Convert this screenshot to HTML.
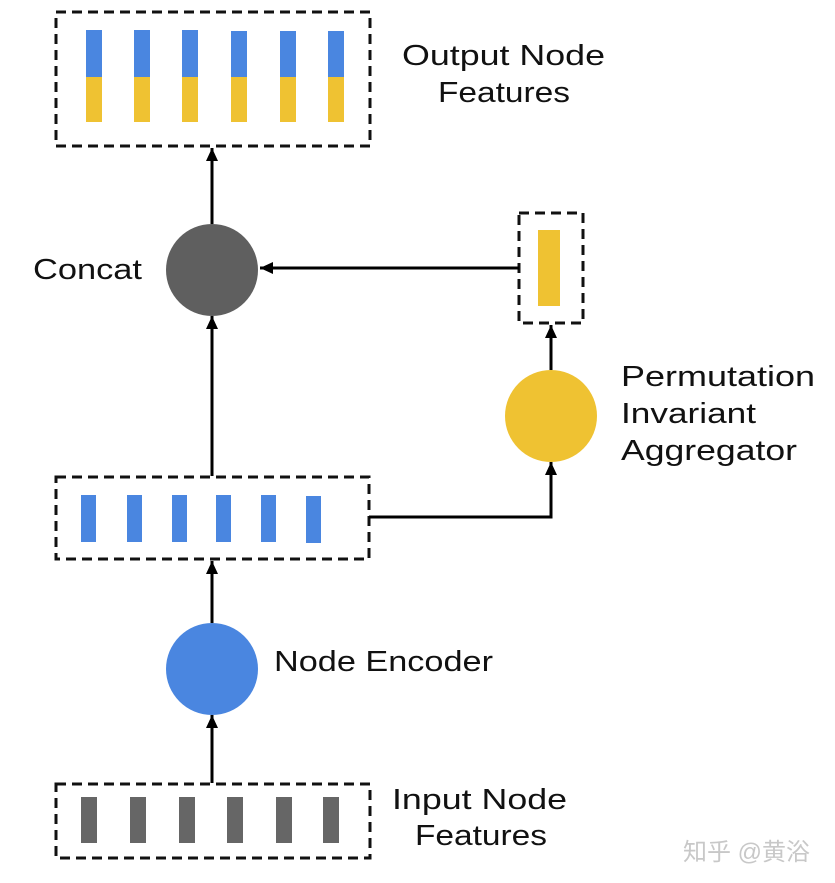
<!DOCTYPE html>
<html><head><meta charset="utf-8"><style>
body{margin:0;background:#fff;}
svg{display:block}
text{font-family:"Liberation Sans","Noto Sans CJK SC",sans-serif;fill:#111;font-size:29px}
</style></head><body>
<svg width="835" height="883" viewBox="0 0 835 883">
<defs><marker id="b" markerWidth="14" markerHeight="14" refX="13" refY="6" orient="auto" markerUnits="userSpaceOnUse"><path d="M0,0 L13,6 L0,12 z" fill="#000"/></marker></defs>
<g fill="none" stroke="#111" stroke-width="3" stroke-dasharray="10,6">
<rect x="56" y="12" width="314" height="134"/>
<rect x="519" y="213" width="64" height="110"/>
<rect x="56" y="477" width="313" height="82"/>
<rect x="56" y="784" width="314" height="74"/>
</g>
<g fill="#4a86e0">
<rect x="86" y="30" width="16" height="47"/><rect x="134" y="30" width="16" height="47"/><rect x="182" y="30" width="16" height="47"/><rect x="231" y="31" width="16" height="46"/><rect x="280" y="31" width="16" height="46"/><rect x="328" y="31" width="16" height="46"/>
<rect x="81" y="495" width="15" height="47"/><rect x="127" y="495" width="15" height="47"/><rect x="172" y="495" width="15" height="47"/><rect x="216" y="495" width="15" height="47"/><rect x="261" y="495" width="15" height="47"/><rect x="306" y="496" width="15" height="47"/>
</g>
<g fill="#efc232">
<rect x="86" y="77" width="16" height="45"/><rect x="134" y="77" width="16" height="45"/><rect x="182" y="77" width="16" height="45"/><rect x="231" y="77" width="16" height="45"/><rect x="280" y="77" width="16" height="45"/><rect x="328" y="77" width="16" height="45"/>
<rect x="538" y="230" width="22" height="76"/>
</g>
<g fill="#666">
<rect x="81" y="797" width="16" height="46"/><rect x="130" y="797" width="16" height="46"/><rect x="179" y="797" width="16" height="46"/><rect x="227" y="797" width="16" height="46"/><rect x="276" y="797" width="16" height="46"/><rect x="323" y="797" width="16" height="46"/>
</g>
<circle cx="212" cy="270" r="46" fill="#5f5f5f"/>
<circle cx="551" cy="416" r="46" fill="#efc232"/>
<circle cx="212" cy="669" r="46" fill="#4a86e0"/>
<g stroke="#000" stroke-width="3" fill="none" marker-end="url(#b)">
<line x1="212" y1="224" x2="212" y2="148"/>
<line x1="519" y1="268" x2="260" y2="268"/>
<line x1="551" y1="370" x2="551" y2="325"/>
<line x1="212" y1="476" x2="212" y2="316"/>
<polyline points="369,517 551,517 551,462"/>
<line x1="212" y1="623" x2="212" y2="561"/>
<line x1="212" y1="783" x2="212" y2="715"/>
</g>
<text x="402" y="65" textLength="203" lengthAdjust="spacingAndGlyphs">Output Node</text>
<text x="438" y="102" textLength="132" lengthAdjust="spacingAndGlyphs">Features</text>
<text x="33" y="279" textLength="109" lengthAdjust="spacingAndGlyphs">Concat</text>
<text x="621" y="386" textLength="194" lengthAdjust="spacingAndGlyphs">Permutation</text>
<text x="621" y="423" textLength="135" lengthAdjust="spacingAndGlyphs">Invariant</text>
<text x="621" y="460" textLength="176" lengthAdjust="spacingAndGlyphs">Aggregator</text>
<text x="274" y="671" textLength="219" lengthAdjust="spacingAndGlyphs">Node Encoder</text>
<text x="392" y="809" textLength="175" lengthAdjust="spacingAndGlyphs">Input Node</text>
<text x="415" y="845" textLength="132" lengthAdjust="spacingAndGlyphs">Features</text>
<text x="683" y="860" style="fill:#c8c8c8;font-size:24px">知乎 @黄浴</text>
</svg>
</body></html>
